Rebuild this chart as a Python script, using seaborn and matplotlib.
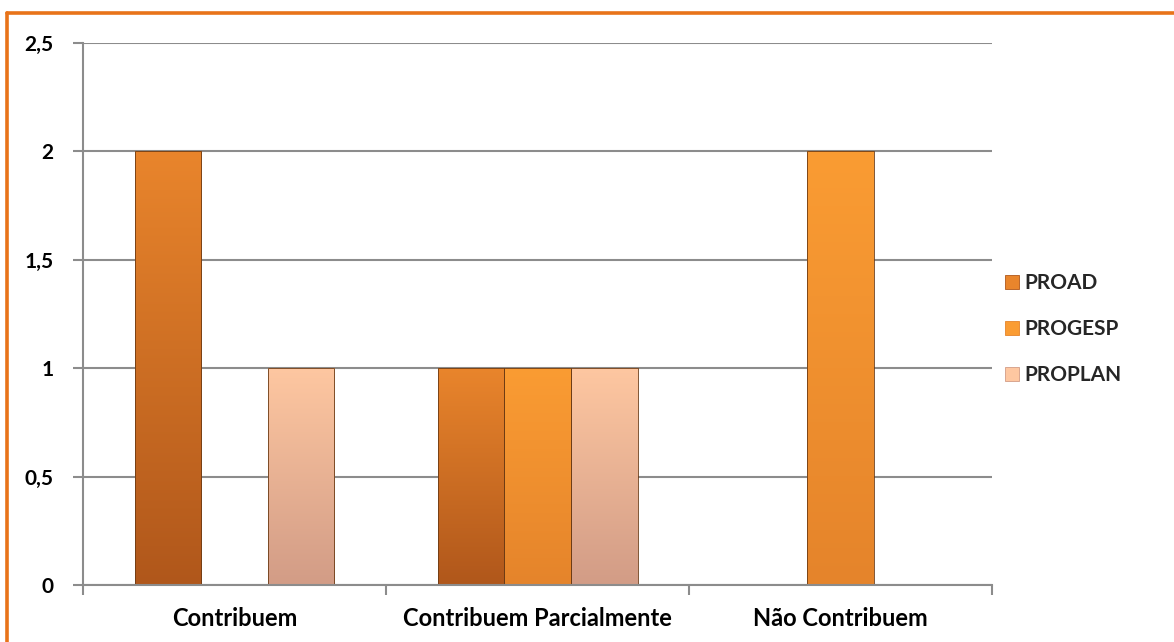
import numpy as np
import pandas as pd
import matplotlib
matplotlib.use("Agg")
import matplotlib.pyplot as plt
from matplotlib.lines import Line2D
from matplotlib.colors import LinearSegmentedColormap
import seaborn as sns

# Data
categories = ["Contribuem", "Contribuem Parcialmente", "Não Contribuem"]
series = ["PROAD", "PROGESP", "PROPLAN"]
proad = [2, 1, 0]
progesp = [0, 1, 2]
proplan = [1, 1, 0]
y_ticks = [0, 0.5, 1, 1.5, 2, 2.5]
y_tick_labels = ["0", "0,5", "1", "1,5", "2", "2,5"]

# Top / bottom shades for each series (vertical gradient fill)
shades = {
    "PROAD": ("#E9852C", "#B0571B"),
    "PROGESP": ("#FA9C33", "#E5842B"),
    "PROPLAN": ("#FEC7A1", "#D29C86"),
}
base = {s: shades[s][0] for s in series}

df = pd.DataFrame({
    "categoria": np.repeat(categories, len(series)),
    "serie": series * len(categories),
    "valor": [v for trio in zip(proad, progesp, proplan) for v in trio],
})

sns.set_theme(style="white")
plt.rcParams["font.family"] = ["Lato", "DejaVu Sans"]
plt.rcParams["font.weight"] = "bold"

fig = plt.figure(figsize=(11.74, 6.42), dpi=100)
ax = fig.add_axes([0.0707, 0.0888, 0.7743, 0.8442])

sns.barplot(data=df, x="categoria", y="valor", hue="serie",
            order=categories, hue_order=series, palette=base,
            width=0.66, gap=0, ax=ax, legend=True,
            edgecolor="#6b3a14", linewidth=0.6)

# Vertical gradient inside each bar, clipped to the bar shape
for container, name in zip(ax.containers, series):
    top_c, bot_c = shades[name]
    cmap = LinearSegmentedColormap.from_list(name, [bot_c, top_c])
    grad = np.linspace(0, 1, 256).reshape(-1, 1)
    for patch in container.patches:
        x0, y0 = patch.get_x(), patch.get_y()
        w, h = patch.get_width(), patch.get_height()
        if h <= 0:
            patch.set_visible(False)
            continue
        im = ax.imshow(grad, cmap=cmap, origin="lower", aspect="auto",
                       extent=[x0, x0 + w, y0, y0 + h], zorder=patch.get_zorder())
        im.set_clip_path(patch)
        patch.set_facecolor("none")
        patch.set_zorder(patch.get_zorder() + 0.1)

ax.set_xlim(-0.5, 2.5)
ax.set_ylim(0, 2.5)
ax.set_yticks(y_ticks)
ax.set_yticklabels(y_tick_labels)
ax.set_xlabel("")
ax.set_ylabel("")

grid_c = "#8C8C8C"
ax.yaxis.grid(True, color=grid_c, linewidth=1.5)
ax.set_axisbelow(True)
for side in ["top", "right"]:
    ax.spines[side].set_visible(False)
for side in ["left", "bottom"]:
    ax.spines[side].set_color(grid_c)
    ax.spines[side].set_linewidth(1.5)

ax.tick_params(axis="y", which="major", left=True, length=7, width=1.5,
               color=grid_c, labelsize=15, pad=14, labelcolor="black")
ax.tick_params(axis="x", which="major", bottom=False, labelsize=17, pad=10,
               labelcolor="black")
ax.set_xticks([-0.5, 0.5, 1.5, 2.5], minor=True)
ax.tick_params(axis="x", which="minor", bottom=True, length=7, width=1.5,
               color=grid_c)
for lab in ax.get_xticklabels() + ax.get_yticklabels():
    lab.set_fontweight("bold")

# Legend on the right
handles, labels = ax.get_legend_handles_labels()
for h, s in zip(handles, series):
    h.set_facecolor(shades[s][0])
    h.set_edgecolor(shades[s][1])
ax.legend(handles, labels, loc="center left", bbox_to_anchor=(0.840, 0.487),
          bbox_transform=fig.transFigure, frameon=False,
          handlelength=0.7, handleheight=0.7, handletextpad=0.25,
          labelspacing=1.25, prop={"weight": "bold", "size": 15})

# Orange chart-area border
border_c = "#E8731A"
fig.add_artist(Line2D([0.006, 1.0], [0.9798, 0.9798], transform=fig.transFigure,
                      color=border_c, linewidth=2.6))
fig.add_artist(Line2D([0.006, 0.006], [0.0, 0.9798], transform=fig.transFigure,
                      color=border_c, linewidth=2.6))

fig.savefig("out.png", dpi=100)
